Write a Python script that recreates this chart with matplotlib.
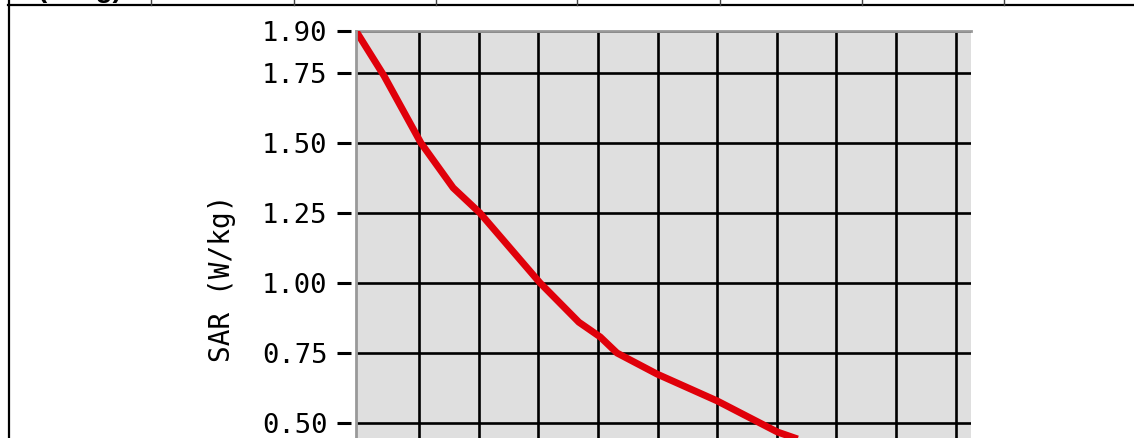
import matplotlib
matplotlib.use("Agg")
import matplotlib.pyplot as plt
from matplotlib.lines import Line2D

# curve (x in grid divisions, SAR in W/kg)
dist = [-0.06, 0.41, 1.03, 1.57, 2.02, 3.03, 3.68, 4.04, 4.32, 4.99, 6.00, 7.01, 7.39]
sar = [1.90, 1.74, 1.50, 1.34, 1.25, 1.00, 0.86, 0.807, 0.75, 0.675, 0.579, 0.468, 0.44]

y_ticks = [0.50, 0.75, 1.00, 1.25, 1.50, 1.75, 1.90]
x_grid = [1, 2, 3, 4, 5, 6, 7, 8, 9, 10]
y_label = "SAR (W/kg)"
header = "(W/kg)"

W, H = 1134, 438
fig = plt.figure(figsize=(W / 100, H / 100), dpi=100)

# axes reaches past the bottom of the figure, the reference is cropped there
top_px, px_per_unit = 31, 280
ymin, ymax = 0.25, 1.90
left_px, right_px = 356, 971
ax = fig.add_axes([left_px / W, (H - top_px - (ymax - ymin) * px_per_unit) / H,
                   (right_px - left_px) / W, (ymax - ymin) * px_per_unit / H])
ax.set_facecolor("#dfdfdf")
ax.set_xlim(-0.06, 10.26)
ax.set_ylim(ymin, ymax)

ax.plot(dist, sar, color="#e0000a", lw=5, solid_capstyle="butt", solid_joinstyle="round", zorder=3)

ax.set_xticks(x_grid)
ax.set_yticks(y_ticks)
ax.set_yticklabels(["%.2f" % v for v in y_ticks])
ax.grid(True, color="black", lw=1.9)
ax.set_axisbelow(True)
ax.tick_params(axis="x", length=0, labelbottom=False)
ax.tick_params(axis="y", direction="out", length=10, width=2.2, pad=7, color="black",
               labelsize=19.5, labelfontfamily="DejaVu Sans Mono")

for s in ("right", "bottom"):
    ax.spines[s].set_visible(False)
ax.spines["top"].set_color("#999999")
ax.spines["top"].set_linewidth(2)
ax.spines["left"].set_position(("outward", 3.6))
ax.spines["left"].set_visible(False)
ax.axvline(-0.06, color="#999999", lw=2, clip_on=False, zorder=4)

fig.text(222 / W, 1 - 278 / H, y_label, rotation=90, ha="center", va="center",
         family="DejaVu Sans Mono", fontsize=20)

# bits of the surrounding table
fig.text(80 / W, 1 + 3 / H, header, ha="center", va="baseline",
         family="Liberation Sans", fontweight="bold", fontsize=20)
fig.add_artist(Line2D([8 / W, 1], [1 - 5 / H] * 2, transform=fig.transFigure,
                      color="black", lw=1.6))
fig.add_artist(Line2D([9 / W] * 2, [0, 1], transform=fig.transFigure,
                      color="black", lw=1.6))
for cx in [151, 294, 436, 577, 720, 862, 1004]:
    fig.add_artist(Line2D([cx / W] * 2, [1 - 5 / H, 1], transform=fig.transFigure,
                          color="#444444", lw=1))

fig.savefig("out.png", dpi=100)
